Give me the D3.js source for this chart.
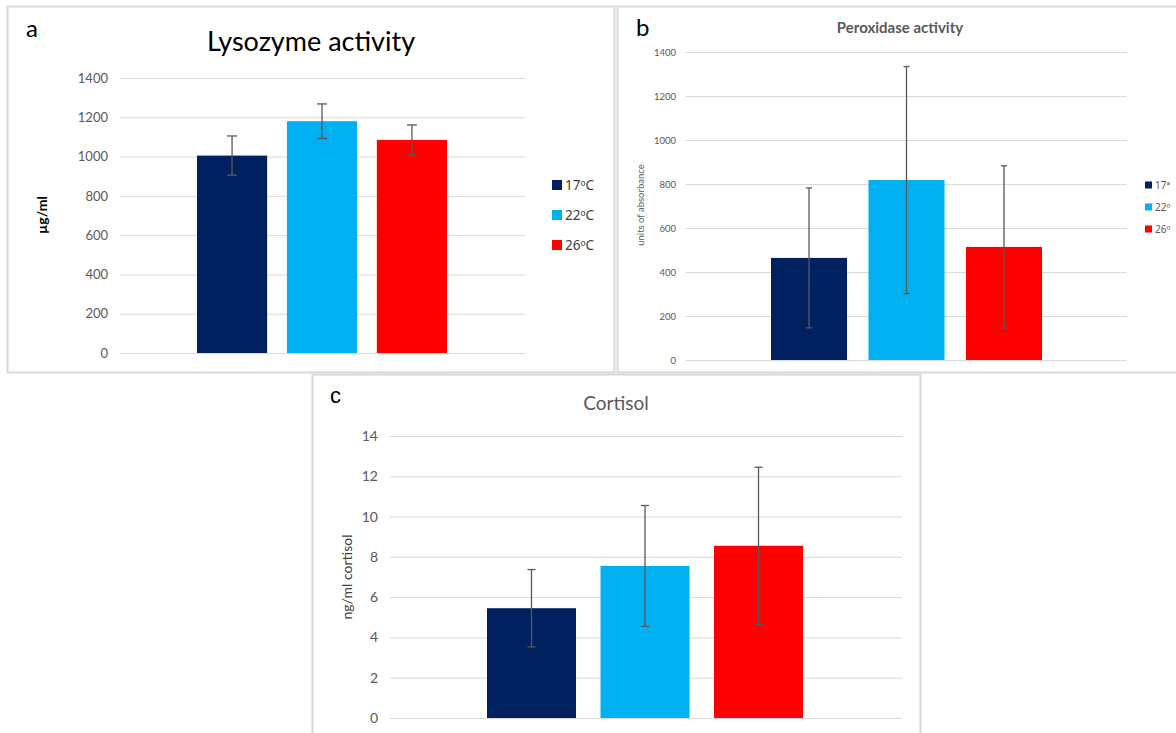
<!DOCTYPE html>
<html>
<head>
<meta charset="utf-8">
<script src="https://cdn.jsdelivr.net/npm/d3@7"></script>
<style>
  html, body { margin: 0; padding: 0; background: #ffffff; }
  svg { display: block; font-family: Lato, "Open Sans", sans-serif; }
</style>
</head>
<body>
<svg id="fig" width="1176" height="733"></svg>
<script>
// Temperature groups and their fills
const groups = ["17ºC", "22ºC", "26ºC"];
const groupColors = ["#002060", "#00B0F0", "#FF0000"];

// (a) Lysozyme activity, µg/ml
const lysozymeMean = [1005, 1180, 1085];
const lysozymeErr  = [100, 88, 76];
const lysozymeTicks = [0, 200, 400, 600, 800, 1000, 1200, 1400];

// (b) Peroxidase activity, units of absorbance
const peroxidaseMean = [464, 818, 514];
const peroxidaseErr  = [318, 516, 369];
const peroxidaseTicks = [0, 200, 400, 600, 800, 1000, 1200, 1400];
const peroxidaseLegend = ["17ª", "22º", "26º"];

// (c) Cortisol, ng/ml
const cortisolMean = [5.45, 7.55, 8.55];
const cortisolErr  = [1.92, 3.0, 3.9];
const cortisolTicks = [0, 2, 4, 6, 8, 10, 12, 14];

const svg = d3.select("#fig");

function panel(cfg) {
  const g = svg.append("g");
  // frame
  g.append("rect")
    .attr("x", cfg.box[0] + 0.5).attr("y", cfg.box[1] + 0.5)
    .attr("width", cfg.box[2]).attr("height", cfg.box[3])
    .attr("fill", "#fff").attr("stroke", "#d9d9d9").attr("stroke-width", 2);

  const y = d3.scaleLinear().domain([0, cfg.ticks[cfg.ticks.length - 1]])
    .range([cfg.plot.y1, cfg.plot.y0]);
  const x = d3.scaleBand().domain(groups).range([cfg.bars.x0, cfg.bars.x1])
    .paddingInner(cfg.bars.gap).paddingOuter(0);

  // gridlines + tick labels via axis
  const axis = d3.axisLeft(y).tickValues(cfg.ticks)
    .tickSize(-(cfg.plot.x1 - cfg.plot.x0)).tickPadding(cfg.tickPad)
    .tickFormat(d3.format("d"));
  const ax = g.append("g").attr("transform", `translate(${cfg.plot.x0},0)`).call(axis);
  ax.select(".domain").remove();
  ax.selectAll(".tick line").attr("stroke", "#d9d9d9").attr("stroke-width", 1);
  ax.selectAll(".tick text").attr("fill", "#595959")
    .style("font-size", cfg.tickFont + "px").style("font-family", "Lato, sans-serif");

  // bars
  g.selectAll("rect.bar").data(cfg.mean).join("rect")
    .attr("class", "bar")
    .attr("x", (d, i) => x(groups[i]))
    .attr("width", x.bandwidth())
    .attr("y", d => y(d))
    .attr("height", d => y(0) - y(d))
    .attr("fill", (d, i) => groupColors[i]);

  // error bars
  const eb = g.selectAll("g.err").data(cfg.mean).join("g").attr("class", "err")
    .attr("stroke", "#595959").attr("stroke-width", 1.3);
  eb.append("line")
    .attr("x1", (d, i) => x(groups[i]) + x.bandwidth() / 2)
    .attr("x2", (d, i) => x(groups[i]) + x.bandwidth() / 2)
    .attr("y1", (d, i) => y(d + cfg.err[i]))
    .attr("y2", (d, i) => y(d - cfg.err[i]));
  [1, -1].forEach(s => {
    eb.append("line")
      .attr("x1", (d, i) => x(groups[i]) + x.bandwidth() / 2 - cfg.cap)
      .attr("x2", (d, i) => x(groups[i]) + x.bandwidth() / 2 + cfg.cap)
      .attr("y1", (d, i) => y(d + s * cfg.err[i]))
      .attr("y2", (d, i) => y(d + s * cfg.err[i]));
  });

  // panel letter
  g.append("text").attr("x", cfg.letter[0]).attr("y", cfg.letter[1])
    .attr("fill", "#000").style("font-size", cfg.letterFont + "px")
    .style("font-family", cfg.letterFamily || "Lato, sans-serif")
    .text(cfg.letterText);

  // title
  g.append("text").attr("x", cfg.title.x).attr("y", cfg.title.y)
    .attr("text-anchor", "middle").attr("fill", cfg.title.color)
    .style("font-size", cfg.title.size + "px")
    .style("font-weight", cfg.title.weight)
    .text(cfg.title.text);

  // y axis label
  g.append("text")
    .attr("transform", `translate(${cfg.ylab.x},${cfg.ylab.y}) rotate(-90)`)
    .attr("text-anchor", "middle").attr("fill", cfg.ylab.color)
    .style("font-size", cfg.ylab.size + "px")
    .style("font-weight", cfg.ylab.weight)
    .text(cfg.ylab.text);

  // legend
  const lg = g.append("g");
  cfg.legendText.forEach((t, i) => {
    const ly = cfg.legend.y + i * cfg.legend.step;
    lg.append("rect").attr("x", cfg.legend.x).attr("y", ly - cfg.legend.sq / 2)
      .attr("width", cfg.legend.sq).attr("height", cfg.legend.sq)
      .attr("fill", groupColors[i]);
    lg.append("text").attr("x", cfg.legend.x + cfg.legend.sq + 3).attr("y", ly)
      .attr("dy", "0.35em").attr("fill", cfg.legend.color)
      .style("font-family", "'Noto Sans', 'Open Sans', sans-serif")
      .style("font-size", cfg.legend.size + "px").text(t);
  });
}

panel({
  box: [7, 6, 607, 366],
  plot: { x0: 120, x1: 525, y0: 78, y1: 353 },
  bars: { x0: 197, x1: 447, gap: 0.22 },
  ticks: lysozymeTicks, mean: lysozymeMean, err: lysozymeErr,
  tickPad: 12, tickFont: 13, cap: 5,
  letter: [26, 37], letterText: "a", letterFont: 24,
  title: { x: 311, y: 51, text: "Lysozyme activity", size: 27, weight: 400, color: "#000" },
  ylab: { x: 47, y: 215, text: "µg/ml", size: 14, weight: 700, color: "#000" },
  legend: { x: 552, y: 185, step: 30, sq: 10, size: 13.5, color: "#404040" },
  legendText: groups
});

panel({
  box: [617, 6, 570, 366],
  plot: { x0: 686, x1: 1127, y0: 52, y1: 360 },
  bars: { x0: 771, x1: 1042, gap: 0.22 },
  ticks: peroxidaseTicks, mean: peroxidaseMean, err: peroxidaseErr,
  tickPad: 10, tickFont: 9.5, cap: 3,
  letter: [636, 36], letterText: "b", letterFont: 24,
  title: { x: 900, y: 33, text: "Peroxidase activity", size: 15, weight: 700, color: "#595959" },
  ylab: { x: 644, y: 205, text: "units of absorbance", size: 9.5, weight: 400, color: "#595959" },
  legend: { x: 1145, y: 185, step: 22, sq: 7, size: 10, color: "#595959" },
  legendText: peroxidaseLegend
});

panel({
  box: [312, 374, 608, 380],
  plot: { x0: 390, x1: 902, y0: 436, y1: 718 },
  bars: { x0: 487, x1: 803, gap: 0.216 },
  ticks: cortisolTicks, mean: cortisolMean, err: cortisolErr,
  tickPad: 12, tickFont: 14, cap: 4,
  letter: [330, 403], letterText: "c", letterFont: 22,
  letterFamily: "Liberation Sans, Arial, sans-serif",
  title: { x: 616, y: 410, text: "Cortisol", size: 19, weight: 400, color: "#595959" },
  ylab: { x: 352, y: 577, text: "ng/ml cortisol", size: 14, weight: 400, color: "#404040" },
  legend: { x: 0, y: 0, step: 0, sq: 0, size: 0, color: "#000" },
  legendText: []
});
</script>
</body>
</html>
